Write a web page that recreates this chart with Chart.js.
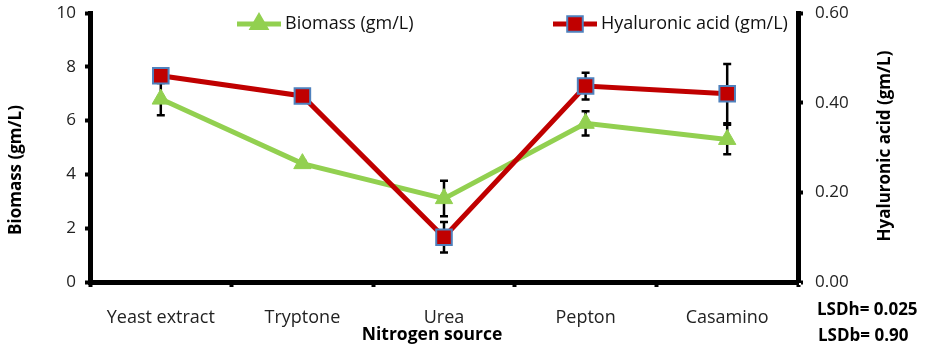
<!DOCTYPE html>
<html>
<head>
<meta charset="utf-8">
<script src="https://cdn.jsdelivr.net/npm/chart.js@4"></script>
<style>
  html, body { margin: 0; padding: 0; background: #fff; }
  canvas { display: block; }
</style>
</head>
<body>
<canvas id="grafico" width="925" height="349"></canvas>
<script>
const fontes = ['Yeast extract', 'Tryptone', 'Urea', 'Pepton', 'Casamino'];
const biomassa = [6.8, 4.4, 3.1, 5.9, 5.3];
const biomassaErro = [0.6, 0.1, 0.66, 0.45, 0.55];
const acido = [0.46, 0.415, 0.10, 0.437, 0.42];
const acidoErro = [0.01, 0.01, 0.034, 0.03, 0.066];
const ticksBiomassa = [0, 2, 4, 6, 8, 10];
const ticksAcido = [0, 0.2, 0.4, 0.6];
const lsd = ['LSDh= 0.025', 'LSDb= 0.90'];

const verde = '#92D050';
const vermelho = '#C00000';
const azul = '#4F81BD';
const fonte = '"Open Sans", Lato, sans-serif';

// error bars, drawn under the lines and markers
const barrasErro = {
  id: 'barrasErro',
  beforeDatasetsDraw(chart) {
    const ctx = chart.ctx;
    const x = chart.scales.x;
    const grupos = [
      [chart.scales.y, biomassa, biomassaErro],
      [chart.scales.y1, acido, acidoErro]
    ];
    ctx.save();
    ctx.strokeStyle = '#000';
    ctx.lineWidth = 2.5;
    grupos.forEach(([escala, vals, erros]) => {
      vals.forEach((v, i) => {
        const px = x.getPixelForValue(i);
        const top = escala.getPixelForValue(v + erros[i]);
        const bot = escala.getPixelForValue(v - erros[i]);
        ctx.beginPath();
        ctx.moveTo(px, top); ctx.lineTo(px, bot);
        ctx.moveTo(px - 4, top); ctx.lineTo(px + 4, top);
        ctx.moveTo(px - 4, bot); ctx.lineTo(px + 4, bot);
        ctx.stroke();
      });
    });
    ctx.restore();
  }
};

// legend with line + marker, axis titles and the LSD notes
const legendaNotas = {
  id: 'legendaNotas',
  afterDraw(chart) {
    const ctx = chart.ctx;
    ctx.save();
    const itens = [
      { x: 237, label: 'Biomass (gm/L)', cor: verde, estilo: 'triangle', raio: 10, borda: verde },
      { x: 553, label: 'Hyaluronic acid (gm/L)', cor: vermelho, estilo: 'rect', raio: 11, borda: azul }
    ];
    const y = 24;
    itens.forEach(it => {
      ctx.strokeStyle = it.cor;
      ctx.lineWidth = 5;
      ctx.beginPath();
      ctx.moveTo(it.x, y); ctx.lineTo(it.x + 44, y);
      ctx.stroke();
      ctx.fillStyle = it.cor;
      ctx.strokeStyle = it.borda;
      ctx.lineWidth = 2;
      Chart.helpers.drawPoint(ctx, { pointStyle: it.estilo, radius: it.raio, borderWidth: 2 }, it.x + 22, y);
      ctx.fillStyle = '#111';
      ctx.font = '18px ' + fonte;
      ctx.textAlign = 'left';
      ctx.textBaseline = 'middle';
      ctx.fillText(it.label, it.x + 48, y);
    });

    ctx.fillStyle = '#000';
    ctx.font = 'bold 17.5px ' + fonte;
    ctx.textAlign = 'center';
    ctx.fillText('Nitrogen source', 432, 335);

    // both axis titles read bottom-to-top
    ctx.font = 'bold 17px ' + fonte;
    [[16, 170, 'Biomass (gm/L)'], [885, 146, 'Hyaluronic acid (gm/L)']].forEach(([tx, ty, t]) => {
      ctx.save();
      ctx.translate(tx, ty);
      ctx.rotate(-Math.PI / 2);
      ctx.fillText(t, 0, 0);
      ctx.restore();
    });

    ctx.textAlign = 'left';
    ctx.fillText(lsd[0], 817, 310);
    ctx.fillText(lsd[1], 818, 336);
    ctx.restore();
  }
};

const ctx = document.getElementById('grafico').getContext('2d');
new Chart(ctx, {
  type: 'line',
  data: {
    labels: fontes,
    datasets: [{
      label: 'Biomass (gm/L)',
      data: biomassa,
      yAxisID: 'y',
      order: 1,
      borderColor: verde,
      borderWidth: 5,
      pointStyle: 'triangle',
      pointRadius: 10,
      pointBackgroundColor: verde,
      pointBorderColor: verde,
      pointBorderWidth: 1,
      tension: 0
    }, {
      label: 'Hyaluronic acid (gm/L)',
      data: acido,
      yAxisID: 'y1',
      order: 0,
      borderColor: vermelho,
      borderWidth: 5,
      pointStyle: 'rect',
      pointRadius: 11,
      pointBackgroundColor: vermelho,
      pointBorderColor: azul,
      pointBorderWidth: 2,
      tension: 0
    }]
  },
  options: {
    responsive: false,
    animation: false,
    devicePixelRatio: 1,
    layout: { padding: { top: 7, left: 0, right: 0, bottom: 0 } },
    plugins: { legend: { display: false }, tooltip: { enabled: false } },
    scales: {
      x: {
        offset: true,
        border: { color: '#000', width: 5 },
        grid: { offset: true, drawOnChartArea: false, color: '#000', tickLength: 5, tickWidth: 4 },
        ticks: { color: '#222', font: { family: fonte, size: 18 }, padding: 20, maxRotation: 0, autoSkip: false },
        afterFit: s => { s.height = 67; }
      },
      y: {
        position: 'left',
        min: 0, max: 10,
        afterBuildTicks: s => { s.ticks = ticksBiomassa.map(v => ({ value: v })); },
        border: { color: '#000', width: 5 },
        grid: { drawOnChartArea: false, color: '#000', tickLength: 5, tickWidth: 4 },
        ticks: { color: '#222', font: { family: fonte, size: 17 }, padding: 9 },
        afterFit: s => { s.width = 90; s.paddingTop = 0; }
      },
      y1: {
        position: 'right',
        min: 0, max: 0.6,
        afterBuildTicks: s => { s.ticks = ticksAcido.map(v => ({ value: v })); },
        border: { color: '#000', width: 5 },
        grid: { drawOnChartArea: false, color: '#000', tickLength: 5, tickWidth: 4 },
        ticks: { color: '#222', font: { family: fonte, size: 17 }, padding: 12, callback: v => v.toFixed(2) },
        afterFit: s => { s.width = 127; s.paddingTop = 0; }
      }
    }
  },
  plugins: [barrasErro, legendaNotas]
});
</script>
</body>
</html>
